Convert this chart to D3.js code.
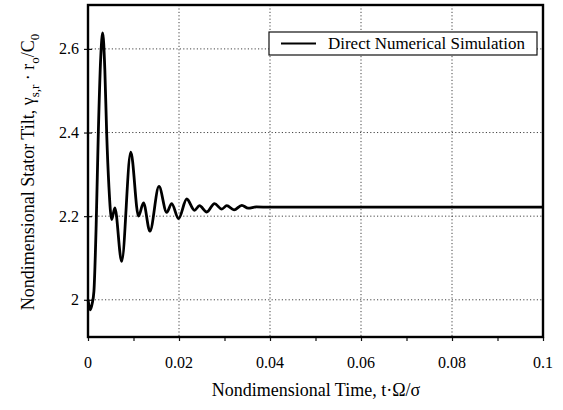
<!DOCTYPE html>
<html>
<head>
<meta charset="utf-8">
<script src="https://cdn.jsdelivr.net/npm/d3@7"></script>
<style>
  body { margin: 0; background: #fff; }
  text { font-family: "Liberation Serif", "DejaVu Serif", serif; fill: #000; }
</style>
</head>
<body>
<div class="chart-wrapper"></div>
<script>
// time values (t·Ω/σ)
const timeVals = [0, 0.0005, 0.0009, 0.0013, 0.0018, 0.00227, 0.0028, 0.00323, 0.0037, 0.0041, 0.0046, 0.0052,
  0.0059, 0.0074, 0.0094, 0.0111, 0.0122, 0.0136, 0.0156, 0.0173, 0.0184, 0.0199, 0.0217, 0.0234,
  0.0245, 0.0261, 0.0278, 0.0294, 0.0305, 0.0321, 0.0338, 0.0352, 0.037, 0.04, 0.06, 0.08, 0.1];
// nondimensional stator tilt
const tiltVals = [2.0, 1.976, 1.99, 2.02, 2.18, 2.4, 2.58, 2.638, 2.55, 2.4, 2.27, 2.192,
  2.22, 2.092, 2.353, 2.2, 2.232, 2.164, 2.271, 2.209, 2.23, 2.194, 2.241, 2.214,
  2.225, 2.21, 2.23, 2.217, 2.225, 2.215, 2.226, 2.219, 2.222, 2.2215, 2.2215, 2.2215, 2.2215];

const xTicks = [0, 0.02, 0.04, 0.06, 0.08, 0.1];
const xTickLabels = ["0", "0.02", "0.04", "0.06", "0.08", "0.1"];
const yTicks = [2, 2.2, 2.4, 2.6];
const yTickLabels = ["2", "2.2", "2.4", "2.6"];
const legendLabel = "Direct Numerical Simulation";

const width = 563, height = 410;
const margin = { top: 5, right: 20, bottom: 73, left: 88 };
const plotW = width - margin.left - margin.right;
const plotH = height - margin.top - margin.bottom;

const svg = d3.select(".chart-wrapper")
  .append("svg")
  .attr("width", width)
  .attr("height", height);

const x = d3.scaleLinear().domain([0, 0.1]).range([0, plotW]);
const y = d3.scaleLinear().domain([1.911, 2.705]).range([plotH, 0]);

const g = svg.append("g").attr("transform", `translate(${margin.left},${margin.top})`);

// dotted grid
g.selectAll(".vgrid")
  .data(xTicks.slice(1, -1))
  .enter()
  .append("line")
  .attr("x1", d => x(d)).attr("x2", d => x(d))
  .attr("y1", 0).attr("y2", plotH)
  .style("stroke", "#444").style("stroke-width", 1).style("stroke-dasharray", "1.2,2.2");
g.selectAll(".hgrid")
  .data(yTicks)
  .enter()
  .append("line")
  .attr("x1", 0).attr("x2", plotW)
  .attr("y1", d => y(d)).attr("y2", d => y(d))
  .style("stroke", "#444").style("stroke-width", 1).style("stroke-dasharray", "1.2,2.2");

// x axis ticks
const xAxis = g.append("g")
  .attr("transform", `translate(0,${plotH})`)
  .call(d3.axisBottom(x).tickValues(d3.range(0, 0.1001, 0.01)).tickSize(4).tickFormat(""));
xAxis.select(".domain").remove();
xAxis.selectAll("line").style("stroke", "#111").style("stroke-width", 1.2);

g.selectAll(".xlab")
  .data(xTicks)
  .enter()
  .append("text")
  .attr("x", d => x(d))
  .attr("y", plotH + 31)
  .attr("text-anchor", "middle")
  .style("font-size", "16px")
  .text((d, i) => xTickLabels[i]);

// y axis ticks
const yAxis = g.append("g")
  .call(d3.axisLeft(y).tickValues(yTicks).tickSize(4).tickFormat(""));
yAxis.select(".domain").remove();
yAxis.selectAll("line").style("stroke", "#111").style("stroke-width", 1.2).attr("x2", 4).attr("x1", -4);

g.selectAll(".ylab")
  .data(yTicks)
  .enter()
  .append("text")
  .attr("x", -9)
  .attr("y", d => y(d) + 5.5)
  .attr("text-anchor", "end")
  .style("font-size", "16px")
  .text((d, i) => yTickLabels[i]);

// curve
const line = d3.line()
  .x((d, i) => x(timeVals[i]))
  .y(d => y(d))
  .curve(d3.curveMonotoneX);

g.append("path")
  .datum(tiltVals)
  .attr("d", line)
  .style("fill", "none")
  .style("stroke", "#000")
  .style("stroke-width", 2.8)
  .style("stroke-linejoin", "round");

// frame
g.append("rect")
  .attr("x", 0).attr("y", 0)
  .attr("width", plotW).attr("height", plotH)
  .style("fill", "none")
  .style("stroke", "#000")
  .style("stroke-width", 2.4);

// legend
const legend = g.append("g").attr("transform", `translate(${269 - margin.left},${32 - margin.top})`);
legend.append("rect")
  .attr("width", 268).attr("height", 23)
  .style("fill", "#fff").style("stroke", "#111").style("stroke-width", 1.2);
legend.append("line")
  .attr("x1", 12).attr("x2", 47).attr("y1", 11.5).attr("y2", 11.5)
  .style("stroke", "#000").style("stroke-width", 2);
legend.append("text")
  .attr("x", 59).attr("y", 17)
  .attr("textLength", 197)
  .attr("lengthAdjust", "spacingAndGlyphs")
  .style("font-size", "17px")
  .text(legendLabel);

// axis titles
svg.append("text")
  .attr("x", 316)
  .attr("y", 396)
  .attr("text-anchor", "middle")
  .style("font-size", "18px")
  .text("Nondimensional Time, t·Ω/σ");

const yTitle = svg.append("text")
  .attr("transform", `translate(34,172) rotate(-90)`)
  .attr("text-anchor", "middle")
  .style("font-size", "18px");
yTitle.append("tspan").text("Nondimensional Stator Tilt, γ");
yTitle.append("tspan").attr("dy", 5).style("font-size", "13px").text("s,r");
yTitle.append("tspan").attr("dy", -5).text(" · r");
yTitle.append("tspan").attr("dy", 5).style("font-size", "13px").text("o");
yTitle.append("tspan").attr("dy", -5).text("/C");
yTitle.append("tspan").attr("dy", 5).style("font-size", "13px").text("0");
</script>
</body>
</html>
